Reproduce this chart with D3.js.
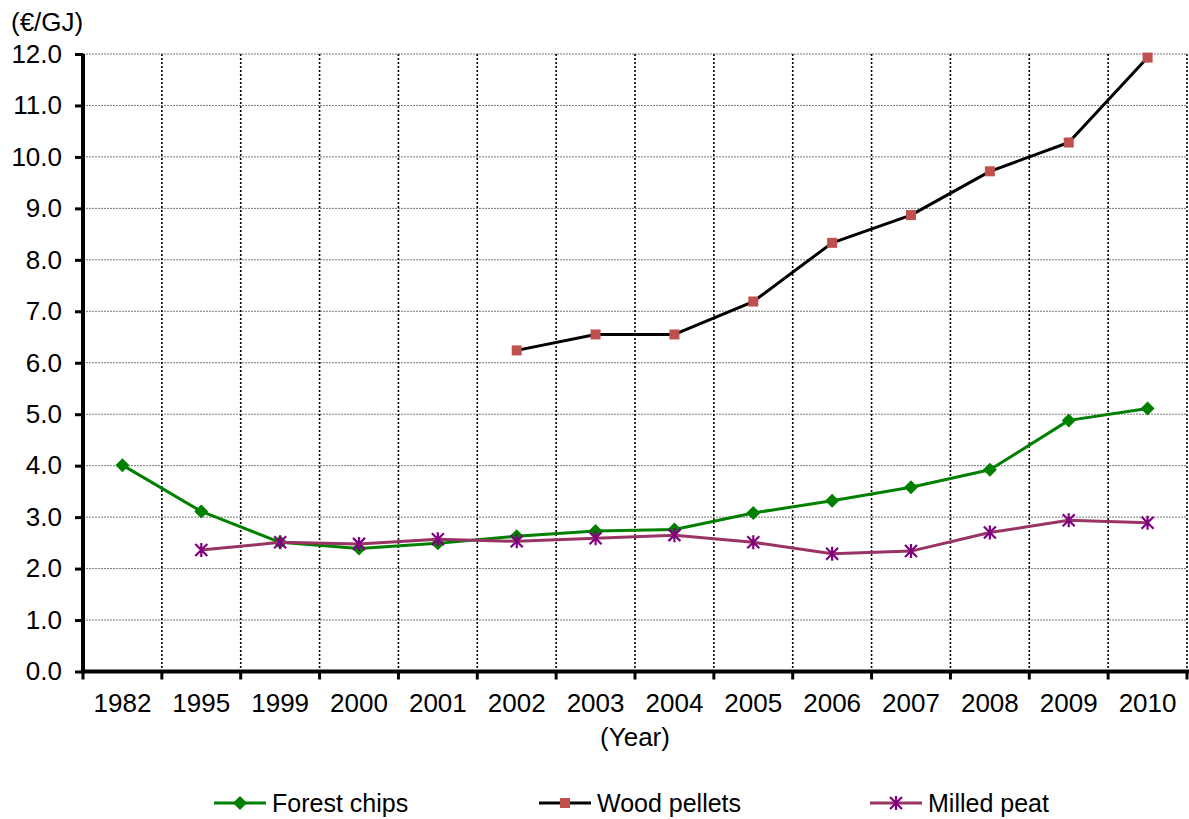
<!DOCTYPE html>
<html>
<head>
<meta charset="utf-8">
<script src="https://cdn.jsdelivr.net/npm/d3@7"></script>
<style>
  html, body { margin: 0; padding: 0; background: #fff; }
  svg { display: block; font-family: "Liberation Sans", Arial, sans-serif; }
</style>
</head>
<body>
<svg id="chart" width="1189" height="819"></svg>
<script>
// Fuel prices (€/GJ) by year
const years = ["1982", "1995", "1999", "2000", "2001", "2002", "2003", "2004", "2005", "2006", "2007", "2008", "2009", "2010"];
const forestChips = [4.01, 3.11, 2.51, 2.39, 2.49, 2.63, 2.73, 2.76, 3.08, 3.32, 3.58, 3.92, 4.88, 5.11];
const woodPellets = [null, null, null, null, null, 6.24, 6.55, 6.55, 7.19, 8.33, 8.87, 9.72, 10.28, 11.93];
const milledPeat = [null, 2.36, 2.51, 2.48, 2.57, 2.53, 2.59, 2.65, 2.51, 2.29, 2.34, 2.70, 2.94, 2.89];
const yTicks = [0, 1, 2, 3, 4, 5, 6, 7, 8, 9, 10, 11, 12];

const series = [
  { name: "Forest chips", values: forestChips, line: "#008000", marker: "diamond", fill: "#008000" },
  { name: "Wood pellets", values: woodPellets, line: "#000000", marker: "square", fill: "#c0504d" },
  { name: "Milled peat", values: milledPeat, line: "#993366", marker: "star", fill: "#800080" }
];

const svg = d3.select("#chart");
const plotLeft = 83, plotRight = 1187, plotTop = 54, plotBottom = 671.5;
const tickFont = 26, legendFont = 25;

const x = d3.scaleBand().domain(years).range([plotLeft, plotRight]).paddingInner(0).paddingOuter(0);
const y = d3.scaleLinear().domain([0, 12]).range([plotBottom, plotTop]);

// Horizontal grid
svg.append("g").selectAll("line").data(yTicks.slice(1)).join("line")
  .attr("x1", plotLeft).attr("x2", plotRight)
  .attr("y1", d => y(d)).attr("y2", d => y(d))
  .attr("stroke", "#777").attr("stroke-width", 1).attr("stroke-dasharray", "2,1");

// Vertical grid at category boundaries
const bounds = years.map(d => x(d) + x.bandwidth());
svg.append("g").selectAll("line").data(bounds).join("line")
  .attr("x1", d => d).attr("x2", d => d)
  .attr("y1", plotTop).attr("y2", plotBottom)
  .attr("stroke", "#000").attr("stroke-width", 1.6).attr("stroke-dasharray", "2,2");

// Y axis
const yAxis = svg.append("g").attr("transform", `translate(${plotLeft},0)`)
  .call(d3.axisLeft(y).tickValues(yTicks).tickFormat(d3.format(".1f")).tickSize(8).tickPadding(13));
yAxis.attr("font-size", tickFont).attr("font-family", "Liberation Sans, Arial, sans-serif");
yAxis.select(".domain").attr("stroke", "#000").attr("stroke-width", 4)
  .attr("d", `M0,${plotTop}V${plotBottom + 2}`);
yAxis.selectAll(".tick line").attr("stroke-width", 3);
yAxis.selectAll(".tick text").attr("fill", "#000");

// X axis
const xAxis = svg.append("g").attr("transform", `translate(0,${plotBottom})`)
  .call(d3.axisBottom(x).tickSize(0).tickPadding(22));
xAxis.attr("font-size", tickFont).attr("font-family", "Liberation Sans, Arial, sans-serif");
xAxis.select(".domain").attr("stroke", "#000").attr("stroke-width", 4)
  .attr("d", `M${plotLeft - 2},0H${plotRight + 2}`);
xAxis.selectAll(".tick text").attr("fill", "#000");
svg.append("g").selectAll("line").data([plotLeft].concat(bounds)).join("line")
  .attr("x1", d => d).attr("x2", d => d)
  .attr("y1", plotBottom).attr("y2", plotBottom + 8)
  .attr("stroke", "#000").attr("stroke-width", 3);

// Axis titles
svg.append("text").attr("x", 11).attr("y", 31).attr("font-size", 26).text("(€/GJ)");
svg.append("text").attr("x", 635).attr("y", 746).attr("text-anchor", "middle")
  .attr("font-size", tickFont).text("(Year)");

// Marker shapes
function drawMarker(g, type, cx, cy, fill) {
  if (type === "diamond") {
    g.append("path").attr("d", `M${cx},${cy - 7}L${cx + 7},${cy}L${cx},${cy + 7}L${cx - 7},${cy}Z`)
      .attr("fill", fill);
  } else if (type === "square") {
    g.append("rect").attr("x", cx - 5).attr("y", cy - 5).attr("width", 10).attr("height", 10)
      .attr("fill", fill);
  } else {
    const r = 6;
    g.append("path")
      .attr("d", `M${cx - r},${cy - r}L${cx + r},${cy + r}M${cx - r},${cy + r}L${cx + r},${cy - r}M${cx},${cy - r - 1}L${cx},${cy + r + 1}`)
      .attr("stroke", fill).attr("stroke-width", 2.2).attr("fill", "none");
  }
}

const line = d3.line()
  .defined(d => d.v != null)
  .x(d => x(d.year) + x.bandwidth() / 2)
  .y(d => y(d.v));

// Series lines and markers
series.forEach(s => {
  const pts = years.map((yr, i) => ({ year: yr, v: s.values[i] }));
  svg.append("path").datum(pts).attr("d", line)
    .attr("fill", "none").attr("stroke", s.line).attr("stroke-width", 3).attr("stroke-linejoin", "round");
  const g = svg.append("g");
  pts.filter(d => d.v != null).forEach(d => {
    drawMarker(g, s.marker, x(d.year) + x.bandwidth() / 2, y(d.v), s.fill);
  });
});

// Legend
const legendX = [214, 539, 870];
series.forEach((s, i) => {
  const g = svg.append("g");
  const lx = legendX[i], ly = 803;
  g.append("line").attr("x1", lx).attr("x2", lx + 52).attr("y1", ly).attr("y2", ly)
    .attr("stroke", s.line).attr("stroke-width", 3);
  drawMarker(g, s.marker, lx + 26, ly, s.fill);
  g.append("text").attr("x", lx + 58).attr("y", ly + 9).attr("font-size", legendFont).text(s.name);
});
</script>
</body>
</html>
